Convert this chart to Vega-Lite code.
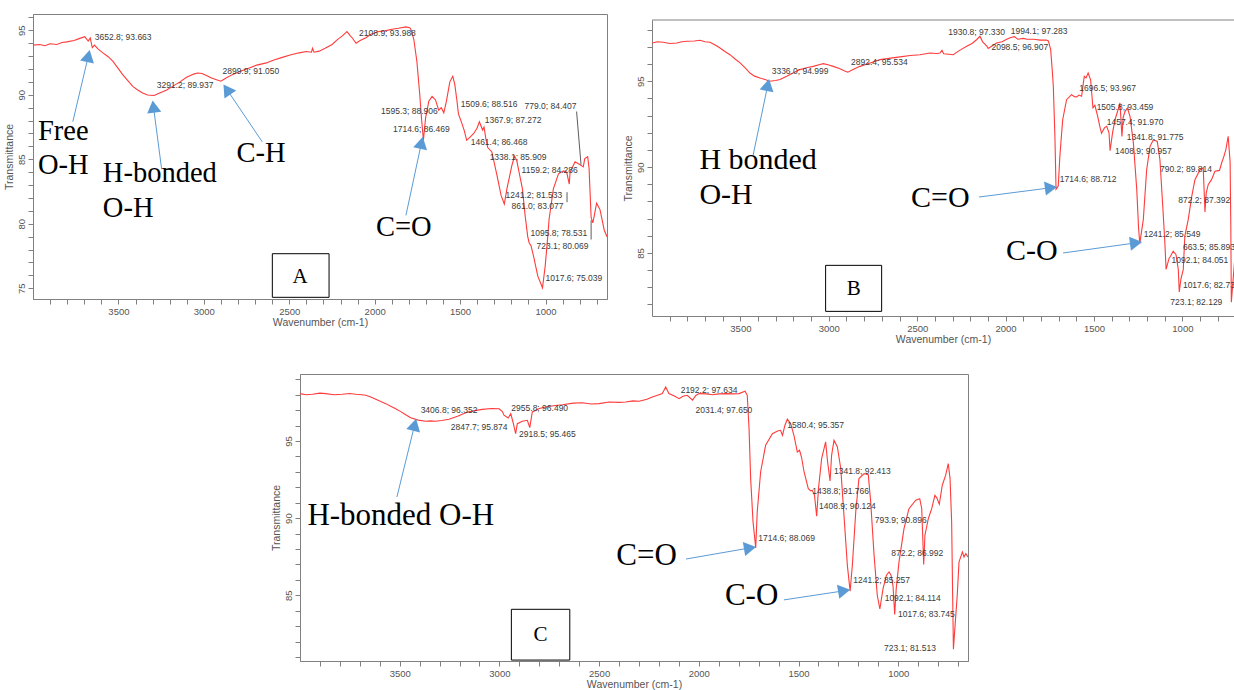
{
"$schema":"https://vega.github.io/schema/vega-lite/v6.json",
"background":"white",
"padding":{"left":3,"top":13,"right":0,"bottom":0},
"config":{
 "view":{"stroke":"#808080","strokeWidth":1},
 "axis":{"grid":false,"domainColor":"#808080","tickColor":"#808080","tickSize":5,"labelFont":"Liberation Sans","labelFontSize":9.5,"labelColor":"#555555","titleFont":"Liberation Sans","titleFontSize":10.5,"titleFontWeight":"normal","titleColor":"#555555","labelPadding":2,"titlePadding":2,"labelFlush":false,"labelOverlap":false}
},
"datasets":{
 "curveA":[{"w":4000,"t":93.85},{"w":3960,"t":93.9},{"w":3930,"t":93.8},{"w":3901,"t":93.95},{"w":3860,"t":93.9},{"w":3830,"t":94.05},{"w":3803,"t":94.1},{"w":3760,"t":94.2},{"w":3726,"t":94.37},{"w":3697,"t":94.5},{"w":3685,"t":94.3},{"w":3677,"t":94.16},{"w":3665,"t":94.4},{"w":3653,"t":93.66},{"w":3640,"t":93.85},{"w":3620,"t":93.55},{"w":3591,"t":93.25},{"w":3560,"t":92.95},{"w":3533,"t":92.6},{"w":3505,"t":92.1},{"w":3475,"t":91.56},{"w":3445,"t":91.1},{"w":3416,"t":90.65},{"w":3385,"t":90.35},{"w":3358,"t":90.13},{"w":3330,"t":89.98},{"w":3291,"t":89.94},{"w":3259,"t":90.13},{"w":3220,"t":90.35},{"w":3183,"t":90.65},{"w":3140,"t":91.0},{"w":3101,"t":91.35},{"w":3060,"t":91.6},{"w":3037,"t":91.69},{"w":3010,"t":91.65},{"w":2985,"t":91.5},{"w":2955,"t":91.3},{"w":2926,"t":91.17},{"w":2900,"t":91.05},{"w":2870,"t":91.3},{"w":2833,"t":91.56},{"w":2790,"t":91.8},{"w":2734,"t":92.08},{"w":2690,"t":92.3},{"w":2634,"t":92.47},{"w":2590,"t":92.7},{"w":2541,"t":92.9},{"w":2490,"t":93.1},{"w":2442,"t":93.25},{"w":2400,"t":93.35},{"w":2370,"t":93.3},{"w":2364,"t":93.6},{"w":2355,"t":93.3},{"w":2325,"t":93.38},{"w":2290,"t":93.6},{"w":2249,"t":93.9},{"w":2220,"t":94.25},{"w":2191,"t":94.55},{"w":2162,"t":94.9},{"w":2145,"t":94.6},{"w":2132,"t":94.42},{"w":2109,"t":93.99},{"w":2085,"t":94.2},{"w":2051,"t":94.42},{"w":2022,"t":94.69},{"w":1975,"t":94.9},{"w":1940,"t":94.95},{"w":1899,"t":95.08},{"w":1860,"t":95.15},{"w":1817,"t":95.26},{"w":1795,"t":95.2},{"w":1788,"t":95.08},{"w":1771,"t":94.3},{"w":1753,"t":92.6},{"w":1736,"t":90.0},{"w":1726,"t":88.2},{"w":1714.6,"t":86.47},{"w":1702,"t":88.2},{"w":1683,"t":89.5},{"w":1664,"t":89.87},{"w":1644,"t":89.6},{"w":1625,"t":88.8},{"w":1610,"t":89.0},{"w":1595.3,"t":88.6},{"w":1580,"t":89.5},{"w":1560,"t":91.0},{"w":1543,"t":91.43},{"w":1531,"t":90.8},{"w":1518,"t":89.5},{"w":1509.6,"t":88.52},{"w":1490,"t":87.8},{"w":1475,"t":87.2},{"w":1461.4,"t":86.47},{"w":1440,"t":86.74},{"w":1420,"t":87.0},{"w":1401,"t":87.4},{"w":1387,"t":87.9},{"w":1378,"t":87.6},{"w":1368,"t":87.27},{"w":1360,"t":87.5},{"w":1349,"t":86.6},{"w":1338,"t":85.91},{"w":1314,"t":85.57},{"w":1284,"t":83.75},{"w":1260,"t":82.2},{"w":1241.2,"t":81.53},{"w":1226,"t":82.7},{"w":1197,"t":84.5},{"w":1181,"t":85.25},{"w":1168,"t":84.9},{"w":1159.2,"t":84.29},{"w":1135,"t":82.7},{"w":1119,"t":80.6},{"w":1104,"t":79.0},{"w":1095.8,"t":78.53},{"w":1085,"t":78.3},{"w":1070,"t":77.5},{"w":1045,"t":75.94},{"w":1017.6,"t":75.04},{"w":1002,"t":76.7},{"w":990,"t":78.5},{"w":979,"t":80.35},{"w":954,"t":82.7},{"w":924,"t":83.87},{"w":895,"t":84.1},{"w":876,"t":84.0},{"w":861,"t":83.08},{"w":856,"t":84.0},{"w":827,"t":84.8},{"w":800,"t":84.6},{"w":779,"t":84.41},{"w":770,"t":85.05},{"w":753,"t":85.2},{"w":745,"t":84.3},{"w":733,"t":80.5},{"w":723.1,"t":80.07},{"w":715,"t":80.6},{"w":701,"t":81.6},{"w":681,"t":81.1},{"w":656,"t":79.5},{"w":640,"t":79.0}],
 "peaksA":[{"w":3638,"t":94.48,"label":"3652.8; 93.663"},{"w":3276,"t":90.73,"label":"3291.2; 89.937"},{"w":2891,"t":91.82,"label":"2899.9; 91.050"},{"w":2091,"t":94.79,"label":"2108.9; 93.988"},{"w":1963,"t":88.77,"label":"1595.3; 88.906"},{"w":1893,"t":87.37,"label":"1714.6; 86.469"},{"w":1496,"t":89.32,"label":"1509.6; 88.516"},{"w":1123,"t":89.16,"label":"779.0; 84.407"},{"w":1356,"t":88.07,"label":"1367.9; 87.272"},{"w":1438,"t":86.35,"label":"1461.4; 86.468"},{"w":1327,"t":85.18,"label":"1338.1; 85.909"},{"w":1140,"t":84.16,"label":"1159.2; 84.286"},{"w":1234,"t":82.21,"label":"1241.2; 81.533"},{"w":1199,"t":81.35,"label":"861.0; 83.077"},{"w":1088,"t":79.32,"label":"1095.8; 78.531"},{"w":1053,"t":78.3,"label":"723.1; 80.069"},{"w":1000,"t":75.8,"label":"1017.6; 75.039"}],
 "leadA":[{"w":818,"t":88.7,"w2":792,"t2":84.58},{"w":874,"t":82.45,"w2":874,"t2":81.67},{"w":733,"t":80.26,"w2":733,"t2":78.78}],
 "bigA":[{"w":3971,"t":86.51,"label":"Free"},{"w":3971,"t":83.85,"label":"O-H"},{"w":3591,"t":83.23,"label":"H-bonded"},{"w":3591,"t":80.49,"label":"O-H"},{"w":2809,"t":84.79,"label":"C-H"},{"w":1992,"t":79.09,"label":"C=O"}],
 "arrowsA":[{"w":3767,"t":87.91,"w2":3676,"t2":93.01},{"w":3247,"t":84.24,"w2":3295,"t2":89.09},{"w":2658,"t":86.35,"w2":2865,"t2":90.41},{"w":1817,"t":80.65,"w2":1726,"t2":86.28}],
 "headsA":[{"w":3676,"t":93.01,"g":1},{"w":3295,"t":89.09,"g":2},{"w":2865,"t":90.41,"g":3},{"w":1726,"t":86.28,"g":1}],
 "boxA":[{"w":2599,"w2":2267,"t":77.68,"t2":74.3}],
 "letterA":[{"w":2436,"t":75.9,"label":"A"}],
 "curveB":[{"w":4000,"t":97.23},{"w":3970,"t":97.3},{"w":3936,"t":97.27},{"w":3900,"t":97.2},{"w":3860,"t":97.23},{"w":3830,"t":97.3},{"w":3804,"t":97.33},{"w":3760,"t":97.35},{"w":3729,"t":97.39},{"w":3700,"t":97.3},{"w":3672,"t":97.27},{"w":3640,"t":97.1},{"w":3615,"t":96.94},{"w":3590,"t":96.75},{"w":3559,"t":96.55},{"w":3530,"t":96.3},{"w":3502,"t":96.07},{"w":3470,"t":95.75},{"w":3446,"t":95.48},{"w":3420,"t":95.3},{"w":3389,"t":95.19},{"w":3360,"t":95.1},{"w":3336,"t":95.0},{"w":3300,"t":95.05},{"w":3276,"t":95.1},{"w":3238,"t":95.29},{"w":3200,"t":95.5},{"w":3163,"t":95.68},{"w":3120,"t":95.8},{"w":3088,"t":95.87},{"w":3050,"t":95.98},{"w":3031,"t":96.03},{"w":3000,"t":95.95},{"w":2975,"t":95.87},{"w":2940,"t":95.75},{"w":2910,"t":95.6},{"w":2892,"t":95.53},{"w":2860,"t":95.7},{"w":2824,"t":95.87},{"w":2770,"t":96.05},{"w":2710,"t":96.26},{"w":2650,"t":96.35},{"w":2597,"t":96.42},{"w":2540,"t":96.5},{"w":2484,"t":96.55},{"w":2428,"t":96.65},{"w":2390,"t":96.62},{"w":2371,"t":96.65},{"w":2360,"t":96.8},{"w":2350,"t":96.6},{"w":2296,"t":96.55},{"w":2260,"t":96.8},{"w":2220,"t":97.04},{"w":2190,"t":97.2},{"w":2164,"t":97.42},{"w":2145,"t":97.62},{"w":2130,"t":97.3},{"w":2107,"t":97.07},{"w":2098.5,"t":96.91},{"w":2070,"t":97.1},{"w":2051,"t":97.23},{"w":2020,"t":97.3},{"w":1994,"t":97.45},{"w":1970,"t":97.55},{"w":1950,"t":97.6},{"w":1930.8,"t":97.45},{"w":1900,"t":97.5},{"w":1880,"t":97.45},{"w":1840,"t":97.45},{"w":1805,"t":97.4},{"w":1770,"t":97.4},{"w":1758,"t":97.35},{"w":1745,"t":96.84},{"w":1735,"t":95.5},{"w":1730,"t":94.71},{"w":1721,"t":91.8},{"w":1714.6,"t":88.71},{"w":1702,"t":88.9},{"w":1693,"t":90.63},{"w":1677,"t":92.76},{"w":1655,"t":93.93},{"w":1627,"t":94.22},{"w":1610,"t":94.1},{"w":1598,"t":94.09},{"w":1585,"t":94.2},{"w":1570,"t":94.13},{"w":1555,"t":95.29},{"w":1545,"t":95.2},{"w":1533,"t":95.48},{"w":1519,"t":95.09},{"w":1505.8,"t":93.46},{"w":1495,"t":93.6},{"w":1480,"t":93.0},{"w":1467,"t":92.38},{"w":1457.4,"t":91.97},{"w":1440,"t":92.3},{"w":1428,"t":92.38},{"w":1415,"t":92.0},{"w":1408.9,"t":90.96},{"w":1395,"t":92.0},{"w":1381,"t":92.76},{"w":1365,"t":93.3},{"w":1353,"t":93.74},{"w":1341.8,"t":91.78},{"w":1335,"t":92.9},{"w":1324,"t":93.25},{"w":1311,"t":93.44},{"w":1296,"t":92.96},{"w":1277,"t":91.4},{"w":1258,"t":88.69},{"w":1248,"t":86.5},{"w":1241.2,"t":85.55},{"w":1221,"t":86.94},{"w":1202,"t":89.85},{"w":1183,"t":91.21},{"w":1164,"t":91.6},{"w":1142,"t":91.5},{"w":1127,"t":90.43},{"w":1112,"t":87.91},{"w":1099,"t":85.58},{"w":1092.1,"t":84.05},{"w":1075,"t":84.7},{"w":1067,"t":84.81},{"w":1052,"t":85.1},{"w":1036,"t":84.9},{"w":1023,"t":84.03},{"w":1017.6,"t":82.73},{"w":1008,"t":83.5},{"w":995,"t":84.03},{"w":986,"t":86.0},{"w":967,"t":86.94},{"w":947,"t":88.3},{"w":929,"t":89.27},{"w":900,"t":89.85},{"w":882,"t":89.95},{"w":872.2,"t":87.39},{"w":865,"t":88.5},{"w":854,"t":88.98},{"w":835,"t":89.27},{"w":816,"t":89.76},{"w":790.2,"t":89.81},{"w":778,"t":90.24},{"w":765,"t":90.63},{"w":754,"t":91.02},{"w":741,"t":91.8},{"w":730,"t":90.3},{"w":726,"t":86.5},{"w":723.1,"t":82.13},{"w":705,"t":84.5},{"w":690,"t":86.0},{"w":663.5,"t":85.89},{"w":650,"t":86.5}],
 "peaksB":[{"w":3323,"t":95.58,"label":"3336.0; 94.999"},{"w":2874,"t":96.1,"label":"2892.4; 95.534"},{"w":2324,"t":97.85,"label":"1930.8; 97.330"},{"w":1971,"t":97.91,"label":"1994.1; 97.283"},{"w":2080,"t":97.0,"label":"2098.5; 96.907"},{"w":1583,"t":94.61,"label":"1696.5; 93.967"},{"w":1485,"t":93.49,"label":"1505.8; 93.459"},{"w":1428,"t":92.61,"label":"1457.4; 91.970"},{"w":1315,"t":91.76,"label":"1341.8; 91.775"},{"w":1381,"t":90.96,"label":"1408.9; 90.957"},{"w":1693,"t":89.33,"label":"1714.6; 88.712"},{"w":1127,"t":89.91,"label":"790.2; 89.814"},{"w":1023,"t":88.1,"label":"872.2; 87.392"},{"w":1219,"t":86.12,"label":"1241.2; 85.549"},{"w":997,"t":85.33,"label":"663.5; 85.893"},{"w":1061,"t":84.61,"label":"1092.1; 84.051"},{"w":997,"t":83.15,"label":"1017.6; 82.734"},{"w":1068,"t":82.15,"label":"723.1; 82.129"}],
 "bigB":[{"w":3732,"t":89.89,"label":"H bonded"},{"w":3732,"t":87.85,"label":"O-H"},{"w":2535,"t":87.68,"label":"C=O"},{"w":1998,"t":84.59,"label":"C-O"}],
 "arrowsB":[{"w":3429,"t":90.65,"w2":3345,"t2":94.79},{"w":2150,"t":88.26,"w2":1743,"t2":88.8},{"w":1675,"t":85.0,"w2":1262,"t2":85.59}],
 "headsB":[{"w":3345,"t":94.79,"g":1},{"w":1743,"t":88.8,"g":2},{"w":1262,"t":85.59,"g":2}],
 "boxB":[{"w":3018,"w2":2701,"t":84.28,"t2":81.6}],
 "letterB":[{"w":2859,"t":82.93,"label":"B"}],
 "curveC":[{"w":4000,"t":98.07},{"w":3970,"t":98.0},{"w":3938,"t":98.03},{"w":3900,"t":98.1},{"w":3871,"t":98.07},{"w":3830,"t":98.0},{"w":3788,"t":98.03},{"w":3750,"t":98.08},{"w":3721,"t":98.03},{"w":3690,"t":98.0},{"w":3670,"t":97.96},{"w":3645,"t":97.85},{"w":3620,"t":97.7},{"w":3595,"t":97.55},{"w":3570,"t":97.42},{"w":3545,"t":97.25},{"w":3520,"t":97.09},{"w":3495,"t":96.9},{"w":3470,"t":96.7},{"w":3445,"t":96.5},{"w":3406.8,"t":96.35},{"w":3370,"t":96.28},{"w":3345,"t":96.3},{"w":3320,"t":96.28},{"w":3290,"t":96.33},{"w":3253,"t":96.41},{"w":3210,"t":96.6},{"w":3169,"t":96.83},{"w":3130,"t":96.95},{"w":3086,"t":97.05},{"w":3040,"t":97.1},{"w":3002,"t":97.09},{"w":2985,"t":96.9},{"w":2977,"t":96.67},{"w":2955.8,"t":96.49},{"w":2943,"t":96.77},{"w":2932,"t":96.23},{"w":2918.5,"t":95.47},{"w":2910,"t":96.12},{"w":2885,"t":96.28},{"w":2860,"t":96.34},{"w":2847.7,"t":95.87},{"w":2835,"t":96.88},{"w":2800,"t":97.1},{"w":2768,"t":97.2},{"w":2720,"t":97.3},{"w":2684,"t":97.35},{"w":2630,"t":97.45},{"w":2584,"t":97.48},{"w":2540,"t":97.4},{"w":2500,"t":97.42},{"w":2450,"t":97.53},{"w":2400,"t":97.5},{"w":2367,"t":97.53},{"w":2330,"t":97.6},{"w":2300,"t":97.57},{"w":2260,"t":97.7},{"w":2233,"t":97.85},{"w":2200,"t":98.0},{"w":2183,"t":98.07},{"w":2166,"t":98.5},{"w":2150,"t":98.07},{"w":2120,"t":97.9},{"w":2099,"t":97.74},{"w":2080,"t":97.9},{"w":2058,"t":97.96},{"w":2031.4,"t":97.65},{"w":2015,"t":97.95},{"w":1999,"t":98.07},{"w":1960,"t":98.05},{"w":1932,"t":98.0},{"w":1900,"t":98.05},{"w":1865,"t":98.07},{"w":1830,"t":98.05},{"w":1798,"t":98.07},{"w":1768,"t":98.22},{"w":1757,"t":97.96},{"w":1748,"t":95.8},{"w":1740,"t":92.56},{"w":1728,"t":89.75},{"w":1714.6,"t":88.07},{"w":1707,"t":90.4},{"w":1690,"t":92.99},{"w":1665,"t":94.72},{"w":1631,"t":95.47},{"w":1605,"t":95.65},{"w":1590,"t":95.69},{"w":1580.4,"t":95.36},{"w":1568,"t":96.02},{"w":1556,"t":96.41},{"w":1539,"t":96.12},{"w":1523,"t":95.37},{"w":1506,"t":94.29},{"w":1495,"t":94.4},{"w":1485,"t":93.96},{"w":1472,"t":92.99},{"w":1451,"t":91.91},{"w":1438.8,"t":91.77},{"w":1431,"t":91.8},{"w":1420,"t":91.5},{"w":1408.9,"t":90.12},{"w":1400,"t":91.9},{"w":1384,"t":93.85},{"w":1364,"t":94.94},{"w":1354,"t":93.64},{"w":1341.8,"t":92.41},{"w":1334,"t":94.07},{"w":1322,"t":95.05},{"w":1305,"t":94.61},{"w":1288,"t":93.2},{"w":1272,"t":90.18},{"w":1255,"t":86.94},{"w":1241.2,"t":85.26},{"w":1230,"t":86.94},{"w":1213,"t":90.4},{"w":1197,"t":92.56},{"w":1171,"t":92.88},{"w":1150,"t":92.82},{"w":1138,"t":91.05},{"w":1121,"t":87.59},{"w":1105,"t":85.0},{"w":1092.1,"t":84.11},{"w":1076,"t":85.43},{"w":1059,"t":86.3},{"w":1046,"t":86.51},{"w":1036,"t":86.3},{"w":1026,"t":85.6},{"w":1017.6,"t":83.75},{"w":1010,"t":85.43},{"w":996,"t":87.16},{"w":971,"t":89.32},{"w":946,"t":90.61},{"w":912,"t":91.16},{"w":892,"t":91.26},{"w":882,"t":90.61},{"w":872.2,"t":86.99},{"w":866,"t":88.89},{"w":849,"t":89.96},{"w":832,"t":90.61},{"w":816,"t":91.48},{"w":806,"t":91.3},{"w":793.9,"t":90.9},{"w":779,"t":92.13},{"w":762,"t":92.78},{"w":749,"t":93.53},{"w":740,"t":92.56},{"w":732,"t":89.75},{"w":727,"t":85.0},{"w":723.1,"t":81.51},{"w":716,"t":82.84},{"w":704,"t":85.0},{"w":695,"t":87.16},{"w":678,"t":87.81},{"w":670,"t":87.48},{"w":661,"t":87.7},{"w":650,"t":87.48}],
 "peaksC":[{"w":3395,"t":96.99,"label":"3406.8; 96.352"},{"w":2940,"t":97.14,"label":"2955.8; 96.490"},{"w":3244,"t":95.89,"label":"2847.7; 95.874"},{"w":2902,"t":95.47,"label":"2918.5; 95.465"},{"w":2091,"t":98.29,"label":"2192.2; 97.634"},{"w":2016,"t":96.99,"label":"2031.4; 97.650"},{"w":1556,"t":96.02,"label":"1580.4; 95.357"},{"w":1322,"t":93.06,"label":"1341.8; 92.413"},{"w":1431,"t":91.76,"label":"1438.8; 91.766"},{"w":1397,"t":90.79,"label":"1408.9; 90.124"},{"w":1118,"t":89.88,"label":"793.9; 90.896"},{"w":1702,"t":88.73,"label":"1714.6; 88.069"},{"w":1035,"t":87.74,"label":"872.2; 86.992"},{"w":1225,"t":85.97,"label":"1241.2; 85.257"},{"w":1068,"t":84.83,"label":"1092.1; 84.114"},{"w":1001,"t":83.81,"label":"1017.6; 83.745"},{"w":1071,"t":81.6,"label":"723.1; 81.513"}],
 "bigC":[{"w":3963,"t":89.58,"label":"H-bonded O-H"},{"w":2414,"t":86.94,"label":"C=O"},{"w":1869,"t":84.35,"label":"C-O"}],
 "arrowsC":[{"w":3514,"t":91.37,"w2":3425,"t2":96.05},{"w":2064,"t":87.35,"w2":1743,"t2":88.07},{"w":1573,"t":84.7,"w2":1271,"t2":85.29}],
 "headsC":[{"w":3425,"t":96.05,"g":1},{"w":1743,"t":88.07,"g":2},{"w":1271,"t":85.29,"g":2}],
 "boxC":[{"w":2940,"w2":2647,"t":84.09,"t2":80.8}],
 "letterC":[{"w":2794,"t":82.43,"label":"C"}]
},
"spacing":28,
"vconcat":[
 {"hconcat":[
  {"width":574,"height":285,
   "encoding":{
    "x":{"field":"w","type":"quantitative","scale":{"domain":[4000,640],"nice":false,"zero":false},"axis":{"title":"Wavenumber (cm-1)","format":"d","values":[700,800,900,1000,1100,1200,1300,1400,1500,1600,1700,1800,1900,2000,2100,2200,2300,2400,2500,2600,2700,2800,2900,3000,3100,3200,3300,3400,3500,3600,3700,3800,3900],"labelExpr":"datum.value % 500 === 0 ? datum.label : ''"}},
    "y":{"field":"t","type":"quantitative","scale":{"domain":[74.17,96.26],"nice":false,"zero":false},"axis":{"title":"Transmittance","values":[75,76,77,78,79,80,81,82,83,84,85,86,87,88,89,90,91,92,93,94,95,96],"labelExpr":"datum.value % 5 === 0 ? datum.label : ''","labelAngle":-90,"labelAlign":"center","labelBaseline":"bottom"}}
   },
   "layer":[
    {"data":{"name":"curveA"},"mark":{"type":"line","color":"#ff3b3b","strokeWidth":1.1,"clip":true}},
    {"data":{"name":"leadA"},"mark":{"type":"rule","color":"#333333","strokeWidth":0.8},"encoding":{"x2":{"field":"w2"},"y2":{"field":"t2"}}},
    {"data":{"name":"peaksA"},"mark":{"type":"text","align":"left","baseline":"middle","font":"Liberation Sans","fontSize":8.5,"color":"#3a3a3a","clip":true},"encoding":{"text":{"field":"label"}}},
    {"data":{"name":"arrowsA"},"mark":{"type":"rule","color":"#5b9bd5","strokeWidth":1},"encoding":{"x2":{"field":"w2"},"y2":{"field":"t2"}}},
    {"data":{"name":"headsA"},"transform":[{"filter":"datum.g == 1"}],"mark":{"type":"point","shape":"triangle-up","angle":12.5,"filled":true,"color":"#5b9bd5","opacity":1,"size":200}},
    {"data":{"name":"headsA"},"transform":[{"filter":"datum.g == 2"}],"mark":{"type":"point","shape":"triangle-up","angle":-7.5,"filled":true,"color":"#5b9bd5","opacity":1,"size":200}},
    {"data":{"name":"headsA"},"transform":[{"filter":"datum.g == 3"}],"mark":{"type":"point","shape":"triangle-up","angle":-34,"filled":true,"color":"#5b9bd5","opacity":1,"size":200}},
    {"data":{"name":"bigA"},"mark":{"type":"text","align":"left","baseline":"alphabetic","font":"Liberation Serif","fontSize":28.5,"color":"#000000"},"encoding":{"text":{"field":"label"}}},
    {"data":{"name":"boxA"},"mark":{"type":"rect","fill":"#ffffff","stroke":"#000000","strokeWidth":1},"encoding":{"x2":{"field":"w2"},"y2":{"field":"t2"}}},
    {"data":{"name":"letterA"},"mark":{"type":"text","align":"center","baseline":"middle","font":"Liberation Serif","fontSize":21,"color":"#000000"},"encoding":{"text":{"field":"label"}}}
   ]
  },
  {"spacing":0,"vconcat":[
   {"width":10,"height":4,"data":{"values":[{"a":1}]},"mark":{"type":"point","opacity":0},"view":{"stroke":null}},
   {"width":582,"height":296,"view":{"stroke":null},
    "encoding":{
     "x":{"field":"w","type":"quantitative","scale":{"domain":[4000,708],"nice":false,"zero":false},"axis":{"title":"Wavenumber (cm-1)","format":"d","values":[800,900,1000,1100,1200,1300,1400,1500,1600,1700,1800,1900,2000,2100,2200,2300,2400,2500,2600,2700,2800,2900,3000,3100,3200,3300,3400,3500,3600,3700,3800,3900],"labelExpr":"datum.value % 500 === 0 ? datum.label : ''"}},
     "y":{"field":"t","type":"quantitative","scale":{"domain":[81.33,98.57],"nice":false,"zero":false},"axis":{"title":"Transmittance","values":[82,83,84,85,86,87,88,89,90,91,92,93,94,95,96,97,98],"labelExpr":"datum.value % 5 === 0 ? datum.label : ''","labelAngle":-90,"labelAlign":"center","labelBaseline":"bottom"}}
    },
    "layer":[
     {"data":{"values":[{"w":4000,"w2":708,"t":98.57}]},"mark":{"type":"rule","color":"#808080","strokeWidth":1},"encoding":{"x2":{"field":"w2"}}},
     {"data":{"name":"curveB"},"mark":{"type":"line","color":"#ff3b3b","strokeWidth":1.1,"clip":true}},
     {"data":{"name":"peaksB"},"mark":{"type":"text","align":"left","baseline":"middle","font":"Liberation Sans","fontSize":8.5,"color":"#3a3a3a","clip":true},"encoding":{"text":{"field":"label"}}},
     {"data":{"name":"arrowsB"},"mark":{"type":"rule","color":"#5b9bd5","strokeWidth":1},"encoding":{"x2":{"field":"w2"},"y2":{"field":"t2"}}},
     {"data":{"name":"headsB"},"transform":[{"filter":"datum.g == 1"}],"mark":{"type":"point","shape":"triangle-up","angle":12,"filled":true,"color":"#5b9bd5","opacity":1,"size":200}},
     {"data":{"name":"headsB"},"transform":[{"filter":"datum.g == 2"}],"mark":{"type":"point","shape":"triangle-up","angle":82.5,"filled":true,"color":"#5b9bd5","opacity":1,"size":200}},
     {"data":{"name":"bigB"},"mark":{"type":"text","align":"left","baseline":"alphabetic","font":"Liberation Serif","fontSize":30,"color":"#000000"},"encoding":{"text":{"field":"label"}}},
     {"data":{"name":"boxB"},"mark":{"type":"rect","fill":"#ffffff","stroke":"#000000","strokeWidth":1},"encoding":{"x2":{"field":"w2"},"y2":{"field":"t2"}}},
     {"data":{"name":"letterB"},"mark":{"type":"text","align":"center","baseline":"middle","font":"Liberation Serif","fontSize":21,"color":"#000000"},"encoding":{"text":{"field":"label"}}}
    ]
   }
  ]}
 ],"spacing":14},
 {"hconcat":[
  {"width":237,"height":10,"data":{"values":[{"a":1}]},"mark":{"type":"point","opacity":0},"view":{"stroke":null}},
  {"width":668,"height":287,
   "encoding":{
    "x":{"field":"w","type":"quantitative","scale":{"domain":[4000,650],"nice":false,"zero":false},"axis":{"title":"Wavenumber (cm-1)","format":"d","values":[700,800,900,1000,1100,1200,1300,1400,1500,1600,1700,1800,1900,2000,2100,2200,2300,2400,2500,2600,2700,2800,2900,3000,3100,3200,3300,3400,3500,3600,3700,3800,3900],"labelExpr":"datum.value % 500 === 0 ? datum.label : ''"}},
    "y":{"field":"t","type":"quantitative","scale":{"domain":[80.74,99.34],"nice":false,"zero":false},"axis":{"title":"Transmittance","values":[81,82,83,84,85,86,87,88,89,90,91,92,93,94,95,96,97,98,99],"labelExpr":"datum.value % 5 === 0 ? datum.label : ''","labelAngle":-90,"labelAlign":"center","labelBaseline":"bottom"}}
   },
   "layer":[
    {"data":{"name":"curveC"},"mark":{"type":"line","color":"#ff3b3b","strokeWidth":1.1,"clip":true}},
    {"data":{"name":"peaksC"},"mark":{"type":"text","align":"left","baseline":"middle","font":"Liberation Sans","fontSize":8.5,"color":"#3a3a3a","clip":true},"encoding":{"text":{"field":"label"}}},
    {"data":{"name":"arrowsC"},"mark":{"type":"rule","color":"#5b9bd5","strokeWidth":1},"encoding":{"x2":{"field":"w2"},"y2":{"field":"t2"}}},
    {"data":{"name":"headsC"},"transform":[{"filter":"datum.g == 1"}],"mark":{"type":"point","shape":"triangle-up","angle":14,"filled":true,"color":"#5b9bd5","opacity":1,"size":200}},
    {"data":{"name":"headsC"},"transform":[{"filter":"datum.g == 2"}],"mark":{"type":"point","shape":"triangle-up","angle":80.5,"filled":true,"color":"#5b9bd5","opacity":1,"size":200}},
    {"data":{"name":"bigC"},"mark":{"type":"text","align":"left","baseline":"alphabetic","font":"Liberation Serif","fontSize":31,"color":"#000000"},"encoding":{"text":{"field":"label"}}},
    {"data":{"name":"boxC"},"mark":{"type":"rect","fill":"#ffffff","stroke":"#000000","strokeWidth":1},"encoding":{"x2":{"field":"w2"},"y2":{"field":"t2"}}},
    {"data":{"name":"letterC"},"mark":{"type":"text","align":"center","baseline":"middle","font":"Liberation Serif","fontSize":21,"color":"#000000"},"encoding":{"text":{"field":"label"}}}
   ]
  }
 ],"spacing":0}
]
}
